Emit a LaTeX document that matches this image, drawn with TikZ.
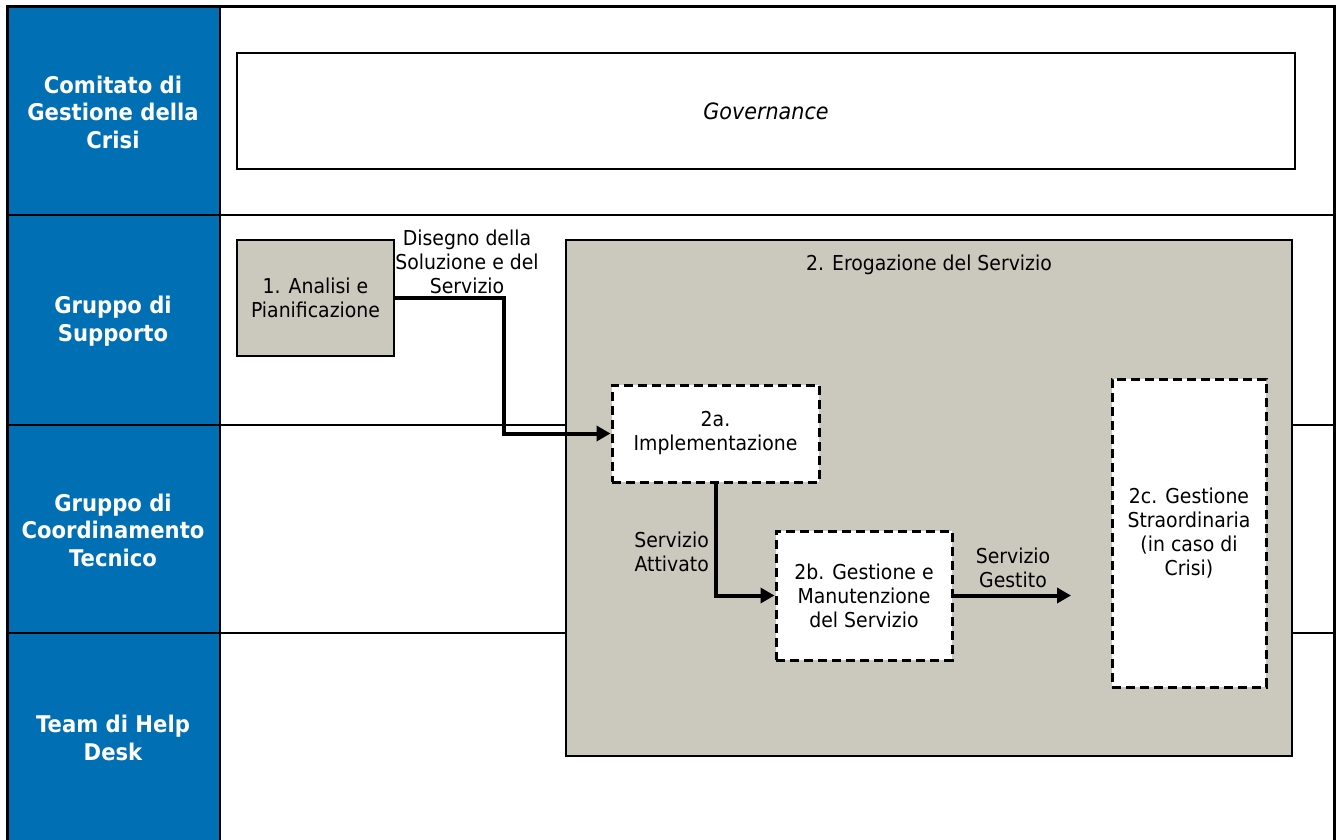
\documentclass[tikz,border=0pt]{standalone}
\usepackage{fontspec}
\setmainfont{DejaVu Sans}[FakeStretch=0.92]
\usetikzlibrary{arrows.meta}
\definecolor{laneblue}{RGB}{0,111,180}
\definecolor{stepgray}{RGB}{203,201,189}

\begin{document}
\begin{tikzpicture}[x=1pt,y=-1pt,
  lanehead/.style={fill=laneblue,draw=black,line width=2.5pt},
  lanetitle/.style={text=white,font=\fontsize{23}{27.5}\selectfont\bfseries,align=center,inner sep=0pt},
  laneline/.style={draw=black,line width=2.5pt},
  plainbox/.style={draw=black,line width=2.5pt,fill=white,inner sep=0pt,align=center,
    font=\fontsize{20.5}{24}\selectfont},
  graybox/.style={plainbox,fill=stepgray},
  dashbox/.style={plainbox,line width=3pt,dash pattern=on 9pt off 5pt},
  flow/.style={draw=black,line width=4pt,-{Triangle[length=14pt,width=15pt]}},
  flowlabel/.style={font=\fontsize{20.5}{24}\selectfont,inner sep=0pt},
]
\useasboundingbox (0,0) rectangle (1338,840);
\fill[white] (0,0) rectangle (1338,840);

% lane separators across the working area
\draw[laneline] (220,215) -- (1334,215);
\draw[laneline] (220,425) -- (1334,425);
\draw[laneline] (220,633) -- (1334,633);

% lane headers
\draw[lanehead] (7,7) rectangle (220,215);
\draw[lanehead] (7,215) rectangle (220,425);
\draw[lanehead] (7,425) rectangle (220,633);
\draw[lanehead] (7,633) rectangle (220,850);
\node[lanetitle] (h1) at (113,112) {Comitato di\\Gestione della\\Crisi};
\node[lanetitle] (h2) at (113,321) {Gruppo di\\Supporto};
\node[lanetitle] (h3) at (113,530) {Gruppo di\\Coordinamento\\Tecnico};
\node[lanetitle] (h4) at (113,738) {Team di Help\\Desk};

% outer frame
\draw[line width=3pt] (7,7) rectangle (1334,850);

% governance band
\node[plainbox,minimum width=1058pt,minimum height=116pt,
  font=\fontsize{22.5}{26}\selectfont\itshape] (gov) at (766,111) {Governance};

% phase 1
\node[graybox,minimum width=157pt,minimum height=116pt] (ap) at (315.5,298)
  {1. Analisi e\\Pianificazione};

% phase 2 container
\node[graybox,minimum width=726pt,minimum height=516pt] (ero) at (929,498) {};
\node[flowlabel] (erot) at (929,265) {2. Erogazione del Servizio};

% sub-phases
\node[dashbox,minimum width=207pt,minimum height=97pt] (a2) at (715.5,433.5)
  {2a.\\Implementazione};
\node[dashbox,minimum width=176pt,minimum height=129pt] (b2) at (864,595.5)
  {2b. Gestione e\\Manutenzione\\del Servizio};
\node[dashbox,minimum width=154pt,minimum height=308pt] (c2) at (1189,533)
  {2c. Gestione\\Straordinaria\\(in caso di\\Crisi)};

% flows
\draw[flow] (ap.east) -- ++(109,0) |- (a2.west);
\draw[flow] (a2.south) |- (b2.west);
\coordinate (gend) at (1071,595.5);
\draw[flow] (b2.east) -- (gend);

% flow labels
\node[flowlabel,align=center,anchor=south] (l1) at (467,294)
  {Disegno della\\Soluzione e del\\Servizio};
\node[flowlabel,align=right,anchor=east] (l2) at (709,552)
  {Servizio\\Attivato};
\node[flowlabel,align=center] (l3) at (1013,568)
  {Servizio\\Gestito};
\end{tikzpicture}
\end{document}
